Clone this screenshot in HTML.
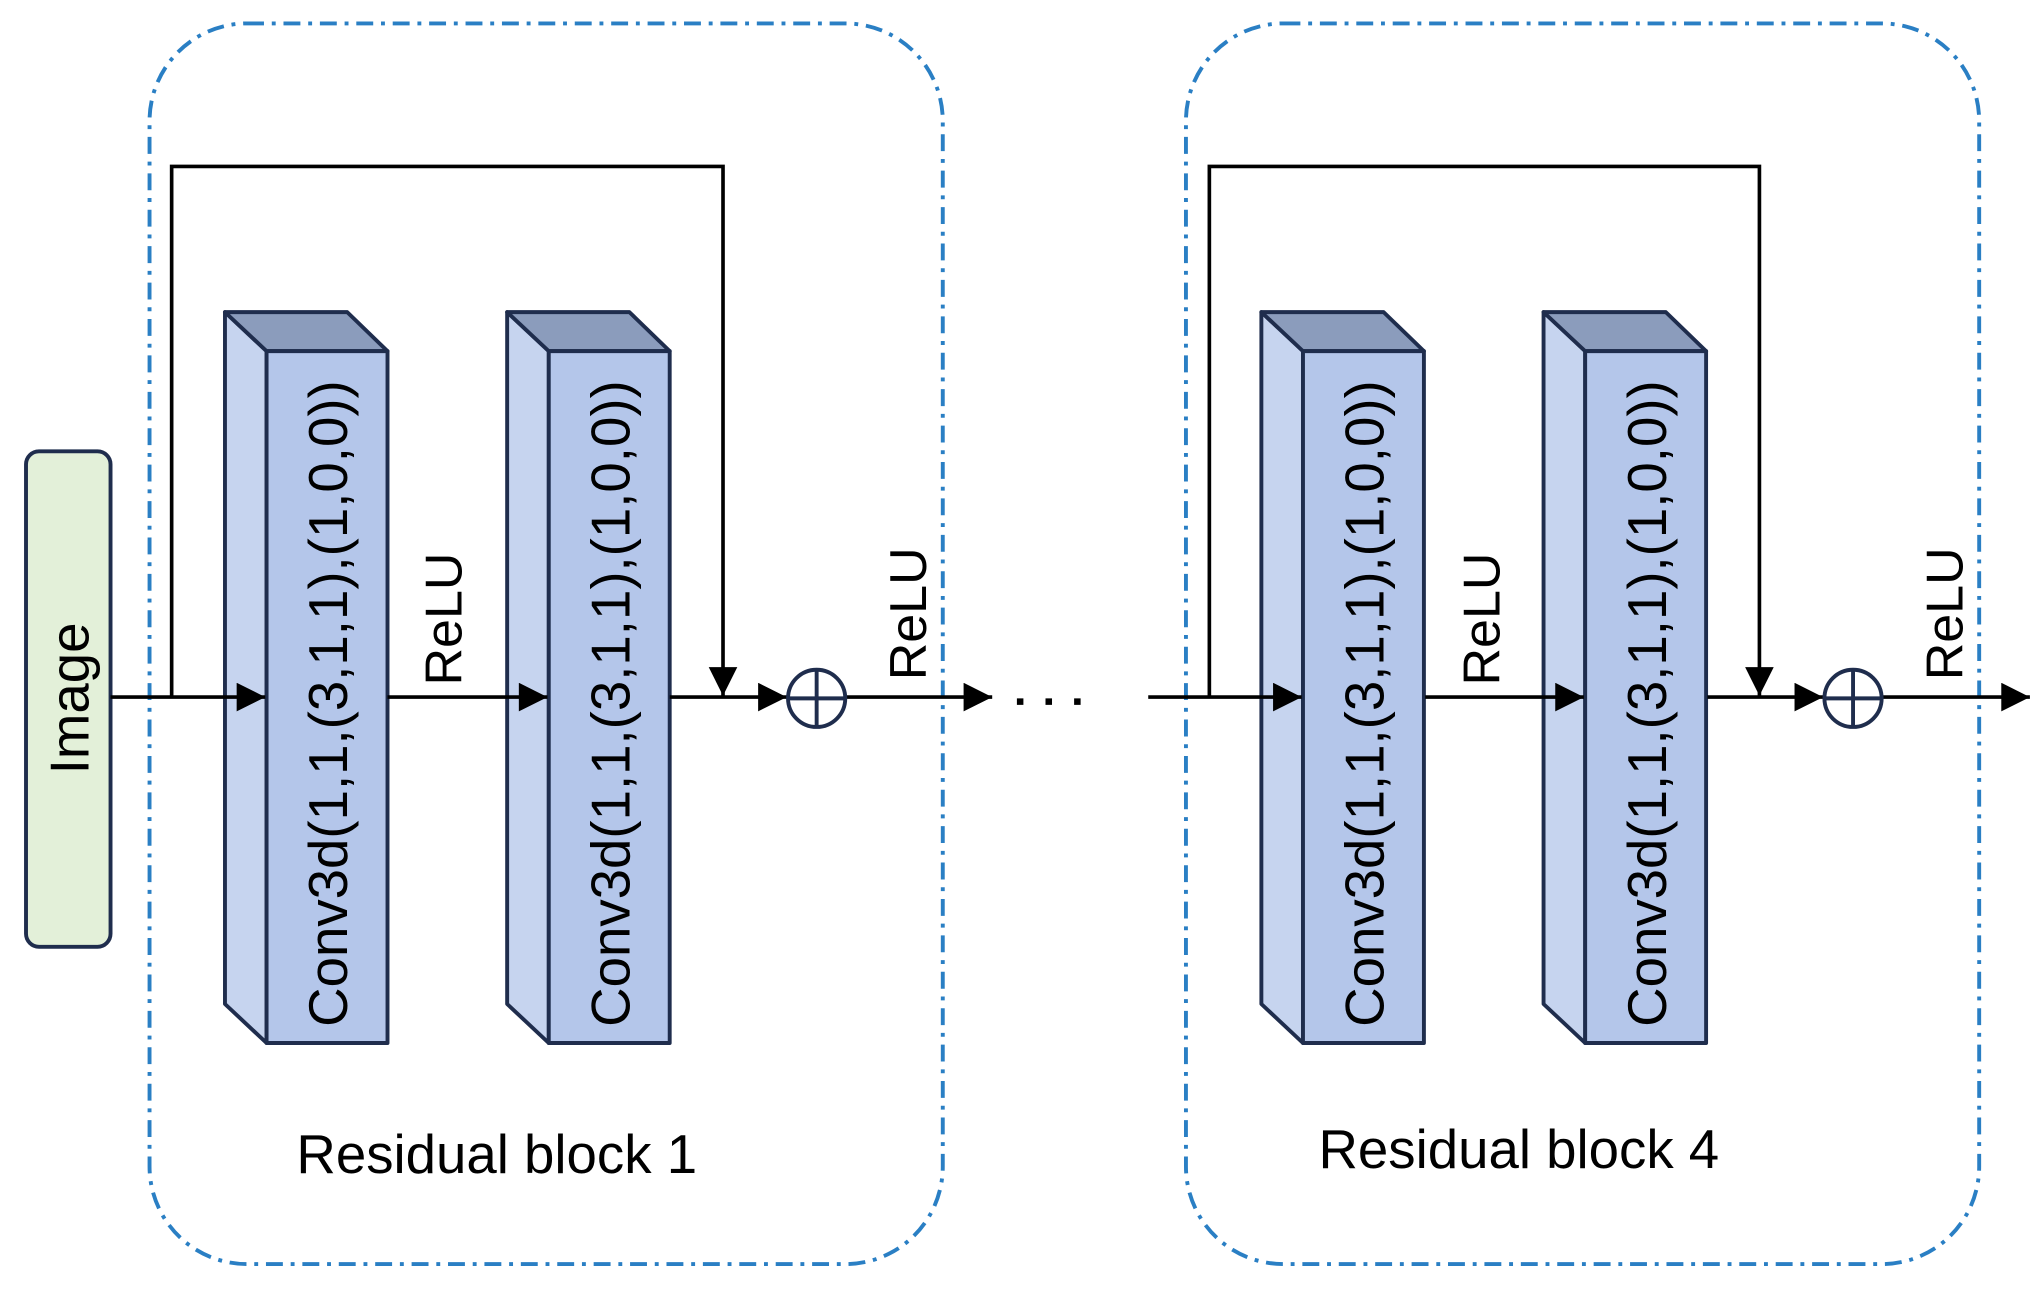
<!DOCTYPE html>
<html><head><meta charset="utf-8"><style>
html,body{margin:0;padding:0;background:#fff;}
svg{display:block;}
text{font-family:"Liberation Sans",sans-serif;fill:#000;}
</style></head><body>
<svg width="2039" height="1294" viewBox="0 0 1568 995" preserveAspectRatio="none" xmlns="http://www.w3.org/2000/svg">
<defs>
<marker id="ah2" viewBox="0 0 10 10" markerWidth="26" markerHeight="22" refX="10" refY="5" orient="auto" markerUnits="userSpaceOnUse">
<path d="M0,0 L10,5 L0,10 z" fill="#000"/>
</marker>
</defs>
<rect x="115" y="18" width="610" height="954" rx="75" ry="75" fill="none" stroke="#2a7fc4" stroke-width="3" stroke-dasharray="13,6,3,6"/>
<rect x="912" y="18" width="610" height="954" rx="75" ry="75" fill="none" stroke="#2a7fc4" stroke-width="3" stroke-dasharray="13,6,3,6"/>
<rect x="20" y="347" width="65" height="381" rx="10" fill="#e3f0d9" stroke="#1f2d4d" stroke-width="3"/>
<text transform="translate(68,537) rotate(-90)" text-anchor="middle" font-size="42">Image</text>

<g stroke="#1f2d4d" stroke-width="3" stroke-linejoin="round">
<g>
<polygon points="173,240 205,270 205,802 173,772" fill="#c6d4ef"/>
<polygon points="173,240 267,240 298,270 205,270" fill="#8b9cbc"/>
<rect x="205" y="270" width="93" height="532" fill="#b4c6ea"/>
</g>
<g transform="translate(217,0)">
<polygon points="173,240 205,270 205,802 173,772" fill="#c6d4ef"/>
<polygon points="173,240 267,240 298,270 205,270" fill="#8b9cbc"/>
<rect x="205" y="270" width="93" height="532" fill="#b4c6ea"/>
</g>
<g transform="translate(797,0)">
<polygon points="173,240 205,270 205,802 173,772" fill="#c6d4ef"/>
<polygon points="173,240 267,240 298,270 205,270" fill="#8b9cbc"/>
<rect x="205" y="270" width="93" height="532" fill="#b4c6ea"/>
</g>
<g transform="translate(1014,0)">
<polygon points="173,240 205,270 205,802 173,772" fill="#c6d4ef"/>
<polygon points="173,240 267,240 298,270 205,270" fill="#8b9cbc"/>
<rect x="205" y="270" width="93" height="532" fill="#b4c6ea"/>
</g>
</g>

<g stroke="#000" stroke-width="2.8" fill="none">
<line x1="85" y1="536" x2="204" y2="536" marker-end="url(#ah2)"/>
<polyline points="132,536 132,128 556,128 556,535" marker-end="url(#ah2)"/>
<line x1="298" y1="536" x2="421" y2="536" marker-end="url(#ah2)"/>
<line x1="515" y1="536" x2="605" y2="536" marker-end="url(#ah2)"/>
<line x1="650" y1="536" x2="763" y2="536" marker-end="url(#ah2)"/>
<line x1="883" y1="536" x2="1001" y2="536" marker-end="url(#ah2)"/>
<polyline points="930,536 930,128 1353,128 1353,535" marker-end="url(#ah2)"/>
<line x1="1096" y1="536" x2="1218" y2="536" marker-end="url(#ah2)"/>
<line x1="1313" y1="536" x2="1402" y2="536" marker-end="url(#ah2)"/>
<line x1="1447" y1="536" x2="1561" y2="536" marker-end="url(#ah2)"/>
</g>
<g stroke="#1f2d4d" stroke-width="3" fill="#fff">
<circle cx="628" cy="537" r="22"/>
<line x1="606" y1="537" x2="650" y2="537"/><line x1="628" y1="515" x2="628" y2="559"/>
<circle cx="1425" cy="537" r="22"/>
<line x1="1403" y1="537" x2="1447" y2="537"/><line x1="1425" y1="515" x2="1425" y2="559"/>
</g>
<g fill="#000">
<rect x="782" y="537" width="5" height="5"/>
<rect x="804" y="537" width="5" height="5"/>
<rect x="826" y="537" width="5" height="5"/>
</g>

<g font-size="42">
<text transform="translate(267,541) rotate(-90)" text-anchor="middle">Conv3d(1,1,(3,1,1),(1,0,0))</text>
<text transform="translate(484,541) rotate(-90)" text-anchor="middle">Conv3d(1,1,(3,1,1),(1,0,0))</text>
<text transform="translate(1064,541) rotate(-90)" text-anchor="middle">Conv3d(1,1,(3,1,1),(1,0,0))</text>
<text transform="translate(1281,541) rotate(-90)" text-anchor="middle">Conv3d(1,1,(3,1,1),(1,0,0))</text>
<text transform="translate(355,476) rotate(-90)" text-anchor="middle" font-size="40">ReLU</text>
<text transform="translate(712,472) rotate(-90)" text-anchor="middle" font-size="40">ReLU</text>
<text transform="translate(1153,476) rotate(-90)" text-anchor="middle" font-size="40">ReLU</text>
<text transform="translate(1509,472) rotate(-90)" text-anchor="middle" font-size="40">ReLU</text>
<text x="382" y="902" text-anchor="middle">Residual block 1</text>
<text x="1168" y="898" text-anchor="middle">Residual block 4</text>
</g>
</svg>
</body></html>
